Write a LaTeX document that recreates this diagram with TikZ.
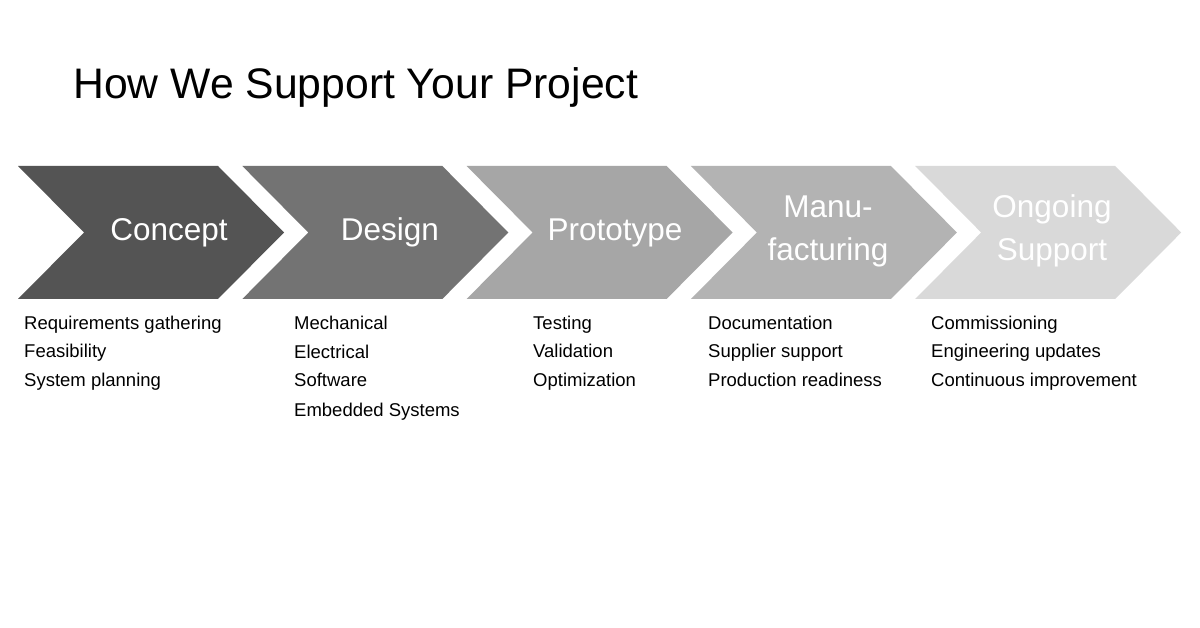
\documentclass[tikz,border=0pt]{standalone}
\usepackage{fontspec}
\setmainfont{Liberation Sans}
\definecolor{cA}{HTML}{545454}
\definecolor{cB}{HTML}{737373}
\definecolor{cC}{HTML}{A6A6A6}
\definecolor{cD}{HTML}{B3B3B3}
\definecolor{cE}{HTML}{D9D9D9}
\tikzset{
  chevlabel/.style={text=white, font=\fontsize{31.5}{43}\selectfont, align=center, inner sep=0pt, anchor=base},
  listtext/.style={text=black, font=\fontsize{18.5}{29}\selectfont, align=left, inner sep=0pt, anchor=base west},
  titletext/.style={text=black, font=\fontsize{42.7}{50}\selectfont, inner sep=0pt, anchor=base west}
}
\newcommand{\chev}[2]{%
  \fill[#2] (#1,166) -- ++(200,0) -- ++(66,66.5) -- ++(-66,66.5) -- ++(-200,0) -- ++(66,-66.5) -- cycle;}
\begin{document}
\begin{tikzpicture}[x=1pt,y=-1pt]
\useasboundingbox (0,0) rectangle (1200,628);
\fill[white] (0,0) rectangle (1200,628);
\node[titletext] (title) at (73,98.5) {How We Support Your Project};
\chev{18}{cA}
\chev{242.3}{cB}
\chev{466.6}{cC}
\chev{690.9}{cD}
\chev{915.2}{cE}
\node[chevlabel] (concept) at (169,241) {Concept};
\node[chevlabel] (design) at (390,241) {Design};
\node[chevlabel] (proto) at (615,241) {Prototype};
\node[chevlabel] (manu) at (828,261) {Manu-\\facturing};
\node[chevlabel] (ongoing) at (1052,261) {Ongoing\\Support};
\node[listtext] (l1) at (24,387) {Requirements gathering\\Feasibility\\System planning};
\node[listtext] (l2) at (294,416) {Mechanical\\Electrical\\Software\\Embedded Systems};
\node[listtext] (l3) at (533,387) {Testing\\Validation\\Optimization};
\node[listtext] (l4) at (708,387) {Documentation\\Supplier support\\Production readiness};
\node[listtext] (l5) at (931,387) {Commissioning\\Engineering updates\\Continuous improvement};
\end{tikzpicture}
\end{document}
